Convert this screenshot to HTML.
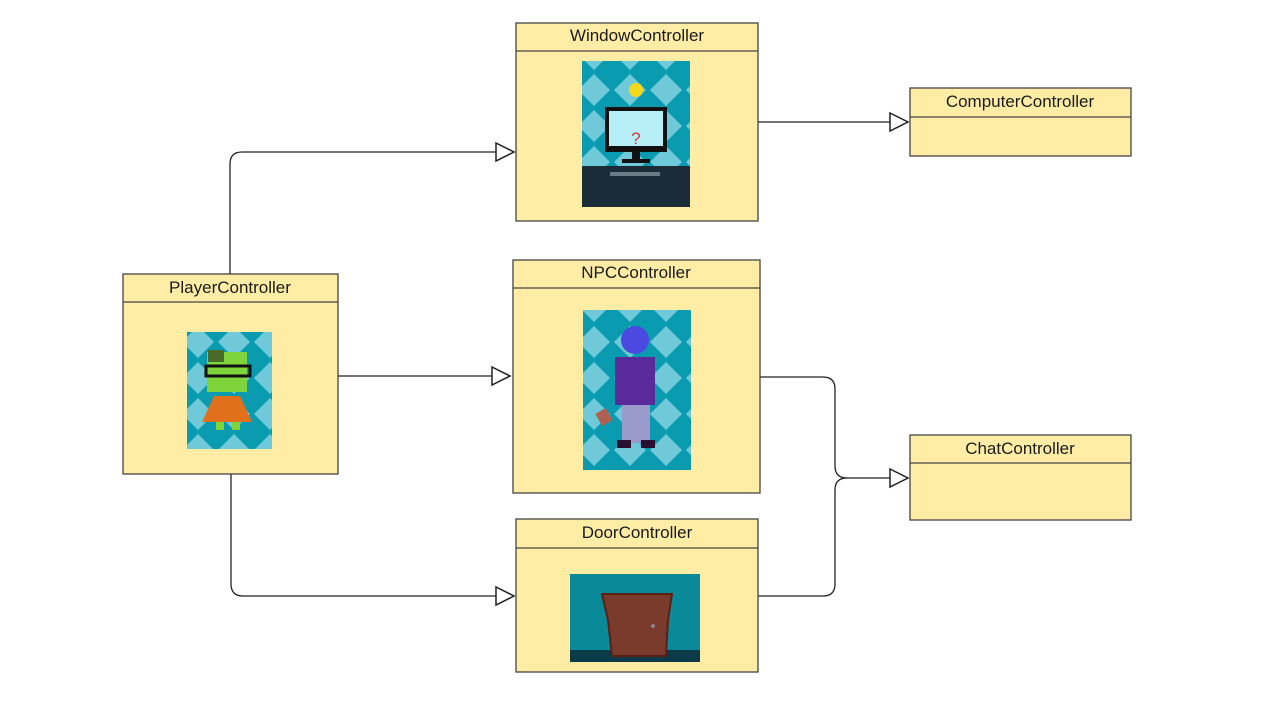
<!DOCTYPE html>
<html><head><meta charset="utf-8"><style>
html,body{margin:0;padding:0;background:#fff;}
svg{display:block;}
text{font-family:"Liberation Sans",sans-serif;font-size:17px;fill:#1a1a1a;}
</style></head><body>
<svg width="1280" height="720" viewBox="0 0 1280 720" xmlns="http://www.w3.org/2000/svg">
<defs>
<pattern id="dia" width="36" height="36" patternUnits="userSpaceOnUse">
<rect width="36" height="36" fill="#0b9bb1"/>
<polygon points="18,2 34,18 18,34 2,18" fill="#6fc9d9"/>
</pattern>
</defs>
<g fill="none" stroke="#222" stroke-width="1.3">
<path d="M230,274 V164 Q230,152 242,152 H496"/>
<path d="M758,122 H890"/>
<path d="M338,376 H492"/>
<path d="M231,474 V584 Q231,596 243,596 H496"/>
<path d="M760,377 H823 Q835,377 835,389 V466 Q835,478 847,478 H890"/>
<path d="M758,596 H823 Q835,596 835,584 V490 Q835,478 847,478"/>
</g>
<g fill="#fff" stroke="#222" stroke-width="1.5">
<polygon points="496,143 514,152 496,161"/>
<polygon points="890,113 908,122 890,131"/>
<polygon points="492,367 510,376 492,385"/>
<polygon points="496,587 514,596 496,605"/>
<polygon points="890,469 908,478 890,487"/>
</g>
<g fill="#ffeda6" stroke="#444" stroke-width="1.3">
<rect x="516" y="23" width="242" height="198"/><line x1="516" y1="51" x2="758" y2="51"/>
<rect x="910" y="88" width="221" height="68"/><line x1="910" y1="117" x2="1131" y2="117"/>
<rect x="123" y="274" width="215" height="200"/><line x1="123" y1="302" x2="338" y2="302"/>
<rect x="513" y="260" width="247" height="233"/><line x1="513" y1="288" x2="760" y2="288"/>
<rect x="910" y="435" width="221" height="85"/><line x1="910" y1="463" x2="1131" y2="463"/>
<rect x="516" y="519" width="242" height="153"/><line x1="516" y1="548" x2="758" y2="548"/>
</g>
<g text-anchor="middle">
<text x="637" y="41">WindowController</text>
<text x="1020" y="107">ComputerController</text>
<text x="230" y="293">PlayerController</text>
<text x="636" y="278">NPCController</text>
<text x="1020" y="454">ChatController</text>
<text x="637" y="538">DoorController</text>
</g>
<!-- window image -->
<rect x="582" y="61" width="108" height="146" fill="url(#dia)"/>
<rect x="582" y="166" width="108" height="41" fill="#1c2b38"/>
<rect x="610" y="172" width="50" height="4" fill="#6a7a85"/>
<circle cx="636" cy="90" r="7" fill="#f2d91c"/>
<rect x="605" y="107" width="62" height="45" fill="#111"/>
<rect x="609" y="111" width="54" height="35" fill="#b8eef5"/>
<text x="636" y="144" font-size="36" text-anchor="middle" style="fill:#d23a4a">?</text>
<rect x="632" y="152" width="8" height="8" fill="#111"/>
<rect x="622" y="159" width="28" height="4" fill="#111"/>
<!-- player image -->
<rect x="187" y="332" width="85" height="117" fill="url(#dia)"/>
<rect x="207" y="352" width="40" height="40" fill="#7ed43a"/>
<rect x="208" y="350" width="16" height="12" fill="#4a6a2a"/>
<rect x="206" y="366" width="44" height="10" fill="none" stroke="#111" stroke-width="3"/>
<polygon points="214,396 240,396 252,422 202,422" fill="#e0701c"/>
<rect x="216" y="422" width="8" height="8" fill="#7ed43a"/><rect x="232" y="422" width="8" height="8" fill="#7ed43a"/>
<!-- npc image -->
<rect x="583" y="310" width="108" height="160" fill="url(#dia)"/>
<circle cx="635" cy="340" r="14" fill="#4a4ae0"/>
<rect x="615" y="357" width="40" height="48" fill="#5a2a9a"/>
<rect x="622" y="405" width="28" height="38" fill="#9a9acc"/>
<rect x="617" y="440" width="14" height="8" fill="#2a1030"/><rect x="641" y="440" width="14" height="8" fill="#2a1030"/>
<rect x="598" y="410" width="12" height="14" fill="#b06050" transform="rotate(-30 604 417)"/>
<!-- door image -->
<rect x="570" y="574" width="130" height="88" fill="#0a8a98"/>
<rect x="570" y="650" width="130" height="12" fill="#0b3a48"/>
<polygon points="602,594 672,594 668,620 666,656 612,656 608,620" fill="#7a3a2c" stroke="#5a2018" stroke-width="2"/>
<circle cx="653" cy="626" r="2" fill="#888"/>
</svg>
</body></html>
